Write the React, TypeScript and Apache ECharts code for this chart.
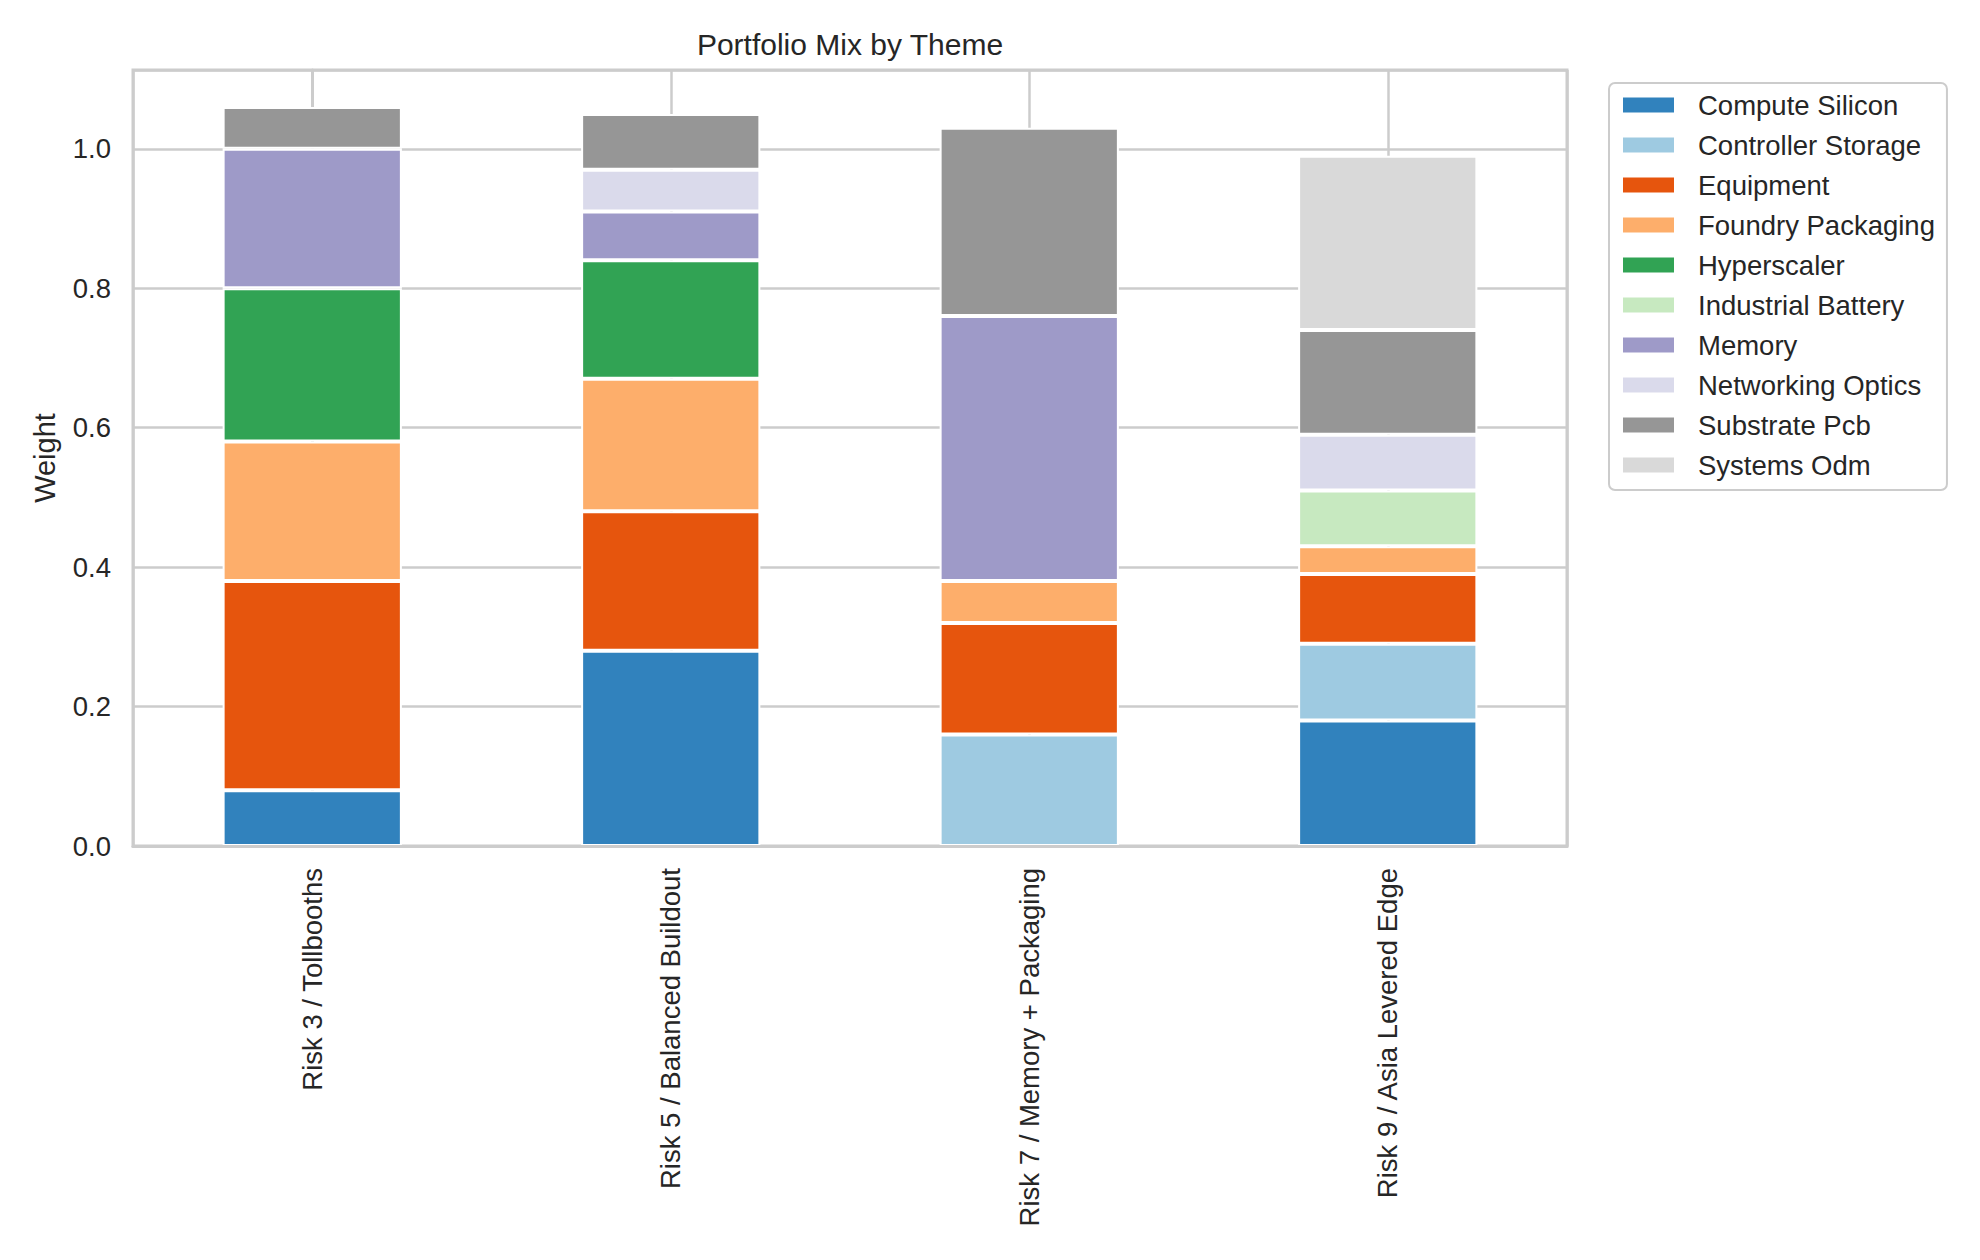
import React, { useEffect, useRef } from "react";
import * as echarts from "echarts";

// Portfolios on the x axis
const portfolios = [
  "Risk 3 / Tollbooths",
  "Risk 5 / Balanced Buildout",
  "Risk 7 / Memory + Packaging",
  "Risk 9 / Asia Levered Edge",
];

// Theme weights per portfolio (0 = theme not held)
const computeSilicon = [0.08, 0.28, 0, 0.18];
const controllerStorage = [0, 0, 0.16, 0.11];
const equipment = [0.3, 0.2, 0.16, 0.1];
const foundryPackaging = [0.2, 0.19, 0.06, 0.04];
const hyperscaler = [0.22, 0.17, 0, 0];
const industrialBattery = [0, 0, 0, 0.08];
const memory = [0.2, 0.07, 0.38, 0];
const networkingOptics = [0, 0.06, 0, 0.08];
const substratePcb = [0.06, 0.08, 0.27, 0.15];
const systemsOdm = [0, 0, 0, 0.25];

const themeNames = [
  "Compute Silicon",
  "Controller Storage",
  "Equipment",
  "Foundry Packaging",
  "Hyperscaler",
  "Industrial Battery",
  "Memory",
  "Networking Optics",
  "Substrate Pcb",
  "Systems Odm",
];
const themeValues = [
  computeSilicon,
  controllerStorage,
  equipment,
  foundryPackaging,
  hyperscaler,
  industrialBattery,
  memory,
  networkingOptics,
  substratePcb,
  systemsOdm,
];
const themeColors = [
  "#3182bd",
  "#9ecae1",
  "#e6550d",
  "#fdae6b",
  "#31a354",
  "#c7e9c0",
  "#9e9ac8",
  "#dadaeb",
  "#969696",
  "#d9d9d9",
];

const yTicks = [0, 0.2, 0.4, 0.6, 0.8, 1.0];

const FONT = "'Liberation Sans', Arial, sans-serif";
const TEXT = "#262626";
const GRID = "#cccccc";

export default function App() {
  const ref = useRef<HTMLDivElement>(null);

  useEffect(() => {
    if (!ref.current) return;
    const chart = echarts.init(ref.current, undefined, { renderer: "svg" });

    const totals = portfolios.map((_, i) =>
      themeValues.reduce((s, arr) => s + arr[i], 0)
    );
    const yMax = Math.max(...totals) * 1.05;

    const series: any[] = themeNames.map((name, k) => ({
      name,
      type: "bar",
      stack: "weight",
      barWidth: "50%",
      xAxisIndex: 0,
      yAxisIndex: 0,
      z: 2,
      itemStyle: {
        color: themeColors[k],
        borderColor: "#ffffff",
        borderWidth: 2,
      },
      emphasis: { disabled: true },
      data: themeValues[k].map((v) => (v === 0 ? "-" : v)),
    }));

    chart.setOption({
      animation: false,
      backgroundColor: "#ffffff",
      textStyle: { fontFamily: FONT },
      title: {
        text: "Portfolio Mix by Theme",
        left: 850,
        textAlign: "center",
        top: 29,
        padding: 0,
        textStyle: {
          fontFamily: FONT,
          fontSize: 30,
          fontWeight: "normal",
          color: TEXT,
        },
      },
      legend: {
        orient: "vertical",
        left: 1609,
        top: 83,
        data: themeNames,
        icon: "rect",
        itemWidth: 53,
        itemHeight: 17,
        itemGap: 12,
        padding: [8, 12, 11, 12],
        backgroundColor: "#ffffff",
        borderColor: GRID,
        borderWidth: 2,
        borderRadius: 6,
        textStyle: {
          fontFamily: FONT,
          fontSize: 27.5,
          color: TEXT,
          lineHeight: 28,
          padding: [0, 0, 0, 18],
        },
      },
      grid: {
        left: 133,
        right: 413,
        top: 70,
        bottom: 414,
        show: true,
        borderColor: GRID,
        borderWidth: 3,
        backgroundColor: "transparent",
      },
      xAxis: [
        {
          type: "category",
          data: portfolios,
          boundaryGap: true,
          z: 5,
          axisLine: { show: true, lineStyle: { color: GRID, width: 3 } },
          axisTick: { show: false },
          splitLine: { show: false },
          axisLabel: {
            interval: 0,
            rotate: 90,
            margin: 22,
            fontFamily: FONT,
            fontSize: 27.5,
            color: TEXT,
          },
        },
        {
          // index axis used only for the vertical grid lines at bar centres
          type: "value",
          position: "top",
          min: -0.5,
          max: portfolios.length - 0.5,
          splitNumber: portfolios.length,
          z: 0,
          axisLine: { show: false },
          axisTick: { show: false },
          axisLabel: { show: false },
          splitLine: { show: true, lineStyle: { color: GRID, width: 2.5 } },
        },
      ],
      yAxis: {
        type: "value",
        min: 0,
        max: yMax,
        interval: yTicks[1] - yTicks[0],
        z: 0,
        name: "Weight",
        nameLocation: "middle",
        nameGap: 74,
        nameTextStyle: { fontFamily: FONT, fontSize: 29, color: TEXT },
        axisLine: { show: true, lineStyle: { color: GRID, width: 3 } },
        axisTick: { show: false },
        splitLine: { show: true, lineStyle: { color: GRID, width: 2.5 } },
        axisLabel: {
          margin: 22,
          fontFamily: FONT,
          fontSize: 27.5,
          color: TEXT,
          showMaxLabel: false,
          formatter: (v: number) =>
            yTicks.some((t) => Math.abs(t - v) < 1e-9) ? v.toFixed(1) : "",
        },
      },
      series,
    });

    return () => chart.dispose();
  }, []);

  return (
    <div
      ref={ref}
      style={{ position: "fixed", left: 0, top: 0, width: 1980, height: 1260 }}
    />
  );
}
